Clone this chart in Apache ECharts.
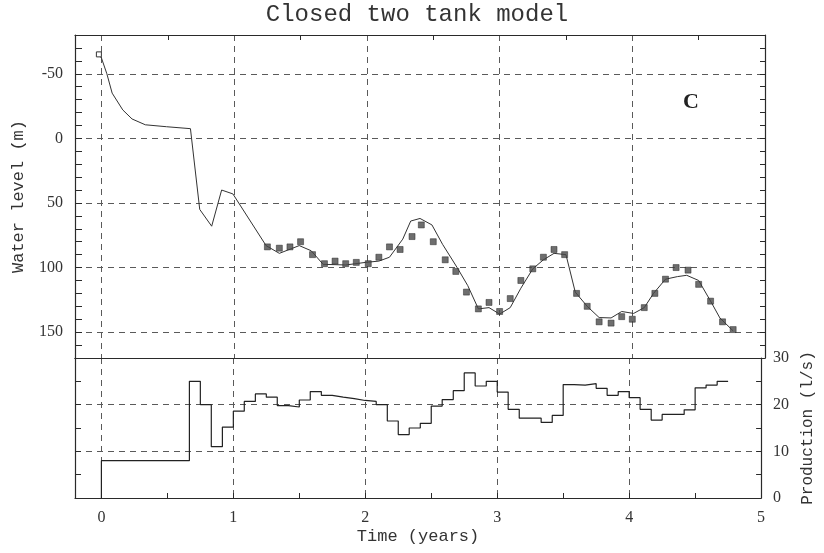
<!DOCTYPE html>
<html><head><meta charset="utf-8">
<script src="https://cdn.jsdelivr.net/npm/echarts@6/dist/echarts.min.js"></script>
<style>html,body{margin:0;padding:0;background:#fff}#c{width:824px;height:553px}</style>
</head><body><div id="c"></div>
<script>
// ---- data ----
const modelTime  = [-0.02, 0.0, 0.04, 0.08, 0.16, 0.23, 0.33, 0.49, 0.67, 0.74, 0.83, 0.905, 0.99, 1.24, 1.34, 1.49, 1.58, 1.67, 1.84, 1.99, 2.09, 2.17, 2.27, 2.33, 2.40, 2.49, 2.57, 2.68, 2.76, 2.84, 2.92, 3.00, 3.08, 3.16, 3.25, 3.33, 3.41, 3.50, 3.57, 3.66, 3.75, 3.84, 3.92, 4.01, 4.09, 4.16, 4.25, 4.34, 4.41, 4.50, 4.59, 4.66, 4.76];
const modelLevel = [-65, -62, -50, -35, -22, -15, -10.5, -9, -7.5, 55, 68, 40, 43, 83, 89, 83, 87, 97.5, 98, 96, 95, 92, 78, 64, 62, 67, 82, 100, 114, 132, 131, 136, 131, 116, 101, 94, 89, 90, 119, 130, 138.7, 139, 134, 135.5, 131, 120, 109, 107, 106, 110, 126, 139, 149];
const obsTime  = [1.25, 1.34, 1.42, 1.50, 1.59, 1.68, 1.76, 1.84, 1.92, 2.01, 2.09, 2.17, 2.25, 2.34, 2.41, 2.50, 2.59, 2.67, 2.75, 2.84, 2.92, 3.00, 3.08, 3.16, 3.25, 3.33, 3.41, 3.49, 3.58, 3.66, 3.75, 3.84, 3.92, 4.00, 4.09, 4.17, 4.25, 4.33, 4.42, 4.50, 4.59, 4.68, 4.76];
const obsLevel = [84, 85, 84, 80, 90, 97, 95, 97, 96, 97, 92, 84, 86, 76, 67, 80, 94, 103, 119, 132, 127, 134, 124, 110, 101, 92, 86, 90, 120, 130, 142, 143, 138, 140, 131, 120, 109, 100, 102, 113, 126, 142, 148];
const prodTime = [0, 0, 0.667, 0.75, 0.833, 0.917, 1.0, 1.083, 1.167, 1.25, 1.333, 1.417, 1.5, 1.583, 1.667, 1.75, 1.833, 1.917, 2.0, 2.083, 2.167, 2.25, 2.333, 2.417, 2.5, 2.583, 2.667, 2.75, 2.833, 2.917, 3.0, 3.083, 3.167, 3.25, 3.333, 3.417, 3.5, 3.583, 3.667, 3.75, 3.833, 3.917, 4.0, 4.083, 4.167, 4.25, 4.333, 4.417, 4.5, 4.583, 4.667, 4.75];
const prodRate = [0, 8, 25, 20, 11, 15.2, 18.6, 20.7, 22.3, 21.6, 19.8, 19.5, 21.0, 22.8, 22.0, 21.6, 21.3, 20.9, 20.7, 20.0, 16.5, 13.6, 15.0, 16.0, 19.7, 21.1, 23.0, 26.8, 24.0, 25.0, 22.7, 19.0, 17.1, 17.1, 16.2, 17.7, 24.3, 24.2, 24.5, 23.5, 22.0, 22.8, 21.5, 19.0, 16.7, 17.9, 17.9, 18.9, 23.6, 24.2, 25.0, 25.0];
const timeTickLabels = [0, 1, 2, 3, 4, 5];
const timeGridValues = [0, 1, 2, 3, 4];
const timeHalfTicks = [0.5, 1.5, 2.5, 3.5, 4.5];
const timeAllTicks = [0, 0.5, 1, 1.5, 2, 2.5, 3, 3.5, 4, 4.5];
const levelTickLabels = [-50, 0, 50, 100, 150];
const prodGridValues = [10, 20];

// ---- chart ----
const ink = '#2a2a2a';
const gridInk = '#5a5a5a';
const serif = '"Liberation Serif", "DejaVu Serif", serif';
const mono = '"Liberation Mono", "DejaVu Sans Mono", monospace';
const axLine = { show: true, onZero: false, lineStyle: { color: ink, width: 1.2 } };
const dashed = { show: true, lineStyle: { color: gridInk, width: 1, type: [6, 5] } };
const lblStyle = { color: '#333', fontFamily: serif, fontSize: 16 };
const nameStyle = { color: '#333', fontFamily: mono, fontSize: 17 };

const zip = (a, b) => a.map((v, i) => [v, b[i]]);

const chart = echarts.init(document.getElementById('c'), null, { renderer: 'canvas' });
chart.setOption({
  animation: false,
  backgroundColor: '#fff',
  graphic: [
    { type: 'text', x: 417, y: 15, style: { text: 'Closed two tank model', font: '24px ' + mono, fill: '#333', textAlign: 'center', textVerticalAlign: 'middle' } },
    { type: 'text', x: 691, y: 102, style: { text: 'C', font: 'bold 22px ' + serif, fill: '#222', textAlign: 'center', textVerticalAlign: 'middle' } }
  ],
  grid: [
    { left: 75, top: 35, width: 690, height: 323 },
    { left: 75, top: 358, width: 690, height: 140 }
  ],
  xAxis: [
    { gridIndex: 0, type: 'value', position: 'top', min: -0.2, max: 5, axisLine: axLine,
      axisTick: { show: true, inside: true, length: 5, customValues: timeHalfTicks, lineStyle: { color: ink } },
      axisLabel: { show: false }, splitLine: { show: false } },
    { gridIndex: 0, type: 'value', position: 'bottom', min: -0.2, max: 5, axisLine: axLine,
      axisTick: { show: false, customValues: timeGridValues },
      axisLabel: { show: false }, splitLine: dashed },
    { gridIndex: 1, type: 'value', position: 'bottom', min: -0.2, max: 5, axisLine: axLine,
      axisTick: { show: true, inside: true, length: 5, customValues: timeAllTicks, lineStyle: { color: ink } },
      axisLabel: Object.assign({ customValues: timeTickLabels, margin: 12 }, lblStyle),
      splitLine: { show: false },
      name: 'Time (years)', nameLocation: 'middle', nameGap: 30, nameTextStyle: nameStyle },
    { gridIndex: 1, type: 'value', position: 'top', min: -0.2, max: 5, axisLine: axLine,
      axisTick: { show: false, customValues: timeGridValues },
      axisLabel: { show: false }, splitLine: dashed }
  ],
  yAxis: [
    { gridIndex: 0, type: 'value', position: 'left', min: -80, max: 170, interval: 10, inverse: true, axisLine: axLine,
      axisTick: { show: true, inside: true, length: 7, lineStyle: { color: ink } },
      axisLabel: Object.assign({ margin: 12, formatter: v => (v % 50 === 0 ? String(v) : '') }, lblStyle),
      splitLine: { show: false },
      name: 'Water level (m)', nameLocation: 'middle', nameRotate: 90, nameGap: 48, nameTextStyle: nameStyle },
    { gridIndex: 0, type: 'value', position: 'right', min: -80, max: 170, interval: 10, inverse: true, axisLine: axLine,
      axisTick: { show: true, inside: true, length: 5, lineStyle: { color: ink } },
      axisLabel: { show: false }, splitLine: { show: false } },
    { gridIndex: 0, type: 'value', position: 'left', min: -80, max: 170, inverse: true, axisLine: { show: false },
      axisTick: { show: false, customValues: levelTickLabels },
      axisLabel: { show: false }, splitLine: dashed },
    { gridIndex: 1, type: 'value', position: 'left', min: 0, max: 30, interval: 5, axisLine: axLine,
      axisTick: { show: true, inside: true, length: 6, lineStyle: { color: ink } },
      axisLabel: { show: false }, splitLine: { show: false } },
    { gridIndex: 1, type: 'value', position: 'right', min: 0, max: 30, interval: 5, axisLine: axLine,
      axisTick: { show: true, inside: true, length: 5, lineStyle: { color: ink } },
      axisLabel: Object.assign({ margin: 12, formatter: v => (v % 10 === 0 ? String(v) : '') }, lblStyle),
      splitLine: { show: false },
      name: 'Production (l/s)', nameLocation: 'middle', nameRotate: 90, nameGap: 36, nameTextStyle: Object.assign({}, nameStyle, { fontSize: 16 }) },
    { gridIndex: 1, type: 'value', position: 'left', min: 0, max: 30, axisLine: { show: false },
      axisTick: { show: false, customValues: prodGridValues },
      axisLabel: { show: false }, splitLine: dashed }
  ],
  series: [
    { name: 'model', type: 'line', xAxisIndex: 0, yAxisIndex: 0, data: zip(modelTime, modelLevel),
      showSymbol: true, symbol: (v, p) => (p.dataIndex === 0 ? 'rect' : 'none'), symbolSize: 5,
      itemStyle: { color: '#fff', borderColor: '#333', borderWidth: 1 },
      lineStyle: { color: '#333', width: 1 }, z: 3 },
    { name: 'observed', type: 'scatter', xAxisIndex: 0, yAxisIndex: 0, data: zip(obsTime, obsLevel),
      symbol: 'rect', symbolSize: 6, itemStyle: { color: '#4a4a4a', borderColor: '#222', borderWidth: 0.6 }, z: 4 },
    { name: 'production', type: 'line', xAxisIndex: 2, yAxisIndex: 3, data: zip(prodTime, prodRate),
      step: 'end', showSymbol: false, symbol: 'none', lineStyle: { color: '#222', width: 1.2 }, z: 3 }
  ]
});
</script>
</body></html>
